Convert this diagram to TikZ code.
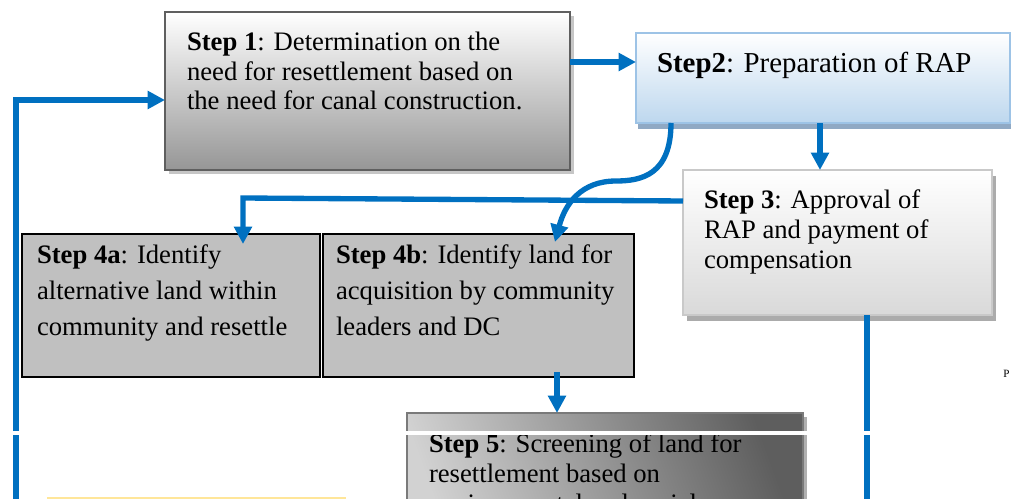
\documentclass[tikz,border=0pt]{standalone}
\usepackage{fontspec}
\setmainfont{Liberation Serif}
\usetikzlibrary{calc,arrows.meta,shadows}
\definecolor{cblue}{HTML}{0070C0}
\definecolor{cib}{HTML}{5F5F5F}
\definecolor{cibot}{HTML}{969696}
\definecolor{ciib}{HTML}{9DC3E6}
\definecolor{ciibot}{HTML}{BDD7EE}
\definecolor{ciis}{HTML}{90A9C4}
\definecolor{ciiib}{HTML}{C9C9C9}
\definecolor{ciiibot}{HTML}{D9D9D9}
\definecolor{ciiis}{HTML}{ABABAB}
\definecolor{civf}{HTML}{C0C0C0}
\definecolor{cvl}{HTML}{D2D2D2}
\definecolor{cvd}{HTML}{5E5E5E}
\definecolor{cvb}{HTML}{7A7A7A}
\definecolor{cvs}{HTML}{B0B0B0}
\definecolor{cyb}{HTML}{FFE699}
\definecolor{cyf}{HTML}{FFF2CC}
\newcommand\pxu{0.45pt}
\begin{document}
\begin{tikzpicture}[x=0.45pt,y=-0.45pt,
  box/.style={anchor=north west, inner sep=0pt, outer sep=0pt},
  conn/.style={draw=cblue, line width=2.4pt, -{Triangle[length=7.8pt,width=7.8pt]}},
  wire/.style={draw=cblue, line width=2.4pt},
  txt/.style={anchor=base west, inner sep=0pt, outer sep=0pt, font=\fontsize{12}{13.5}\selectfont},
]
\useasboundingbox (0,0) rectangle (1011,499);
\clip (0,0) rectangle (1011,499);

% boxes
\node[box, minimum width=405*\pxu, minimum height=158*\pxu, draw=cib, line width=0.9pt,
  top color=white, bottom color=cibot,
  drop shadow={shadow xshift=1.8pt, shadow yshift=-1.8pt, fill=gray!45, opacity=1}] (s1) at (165,12) {};
\node[box, minimum width=374*\pxu, minimum height=90*\pxu, draw=ciib, line width=0.9pt,
  top color=white, bottom color=ciibot,
  drop shadow={shadow xshift=1pt, shadow yshift=-2.7pt, fill=ciis, opacity=1}] (s2) at (636,33) {};
\node[box, minimum width=309*\pxu, minimum height=145*\pxu, draw=ciiib, line width=0.9pt,
  top color=white, bottom color=ciiibot,
  drop shadow={shadow xshift=1.8pt, shadow yshift=-2.5pt, fill=ciiis, opacity=1}] (s3) at (683,170) {};
\node[box, minimum width=298*\pxu, minimum height=143*\pxu, draw=black, line width=0.7pt, fill=civf] (s4a) at (22,234) {};
\node[box, minimum width=311*\pxu, minimum height=143*\pxu, draw=black, line width=0.7pt, fill=civf] (s4b) at (323,234) {};
\node[box, minimum width=396*\pxu, minimum height=150*\pxu, draw=cvb, line width=0.9pt,
  left color=cvl, right color=cvd, shading angle=110,
  drop shadow={shadow xshift=1.8pt, shadow yshift=-1.8pt, fill=cvs, opacity=1}] (s5) at (407,413) {};
\node[box, minimum width=297*\pxu, minimum height=100*\pxu, draw=cyb, fill=cyf, line width=0.6pt] (sy) at (48,498) {};

% texts
\node[txt] (s1t) at ($(s1.north west)+(22,38)$) {\vtop{\baselineskip=13.5pt
  \hbox{\textbf{Step 1}: Determination on the}
  \hbox{need for resettlement based on}
  \hbox{the need for canal construction.}}};
\node[txt, font=\fontsize{13}{15}\selectfont] (s2t) at ($(s2.north west)+(21,40)$) {\textbf{Step2}: Preparation of RAP};
\node[txt] (s3t) at ($(s3.north west)+(21,38)$) {\vtop{\baselineskip=13.5pt
  \hbox{\textbf{Step 3}: Approval of}
  \hbox{RAP and payment of}
  \hbox{compensation}}};
\node[txt] (s4at) at ($(s4a.north west)+(15,29)$) {\vtop{\baselineskip=16.4pt
  \hbox{\textbf{Step 4a}: Identify}
  \hbox{alternative land within}
  \hbox{community and resettle}}};
\node[txt] (s4bt) at ($(s4b.north west)+(13,29)$) {\vtop{\baselineskip=16.4pt
  \hbox{\textbf{Step 4b}: Identify land for}
  \hbox{acquisition by community}
  \hbox{leaders and DC}}};
\node[txt] (s5t) at ($(s5.north west)+(22,39)$) {\vtop{\baselineskip=13.5pt
  \hbox{\textbf{Step 5}: Screening of land for}
  \hbox{resettlement based on}
  \hbox{environmental and social}}};
\node[anchor=base west, inner sep=0pt, font=\fontsize{5}{6}\selectfont] (pg) at (1003,377) {P};

% connectors
\coordinate (lb) at (16,560);
\coordinate (rb) at (867,560);
\draw[conn] ($(s1.north east)+(0,50)$) -- ($(s2.north west)+(0,29)$);
\draw[conn] ($(s2.south west)+(184,0)$) -- ($(s3.north west)+(137,0)$);
\draw[conn] ($(s3.north west)+(0,31)$) -- ($(s4a.north west)+(221,-36)$) -- ($(s4a.north west)+(221,10)$);
\draw[conn] ($(s2.south west)+(35,0)$) .. controls ($(s2.south west)+(35,52)$) and ($(s2.south west)+(5,58)$) .. ($(s2.south west)+(-20,58)$) .. controls ($(s2.south west)+(-55,58)$) and ($(s4b.north west)+(242,-30)$) .. ($(s4b.north west)+(232,8)$);
\draw[conn] ($(s4b.south west)+(234,-5)$) -- ($(s5.north west)+(150,0)$);
\draw[conn] (lb) |- ($(s1.north west)+(0,88)$);
\draw[wire] ($(s3.south west)+(184,0)$) -- (rb);

% page-break strip
\fill[white] (0,431) rectangle (1011,435);
\end{tikzpicture}
\end{document}
